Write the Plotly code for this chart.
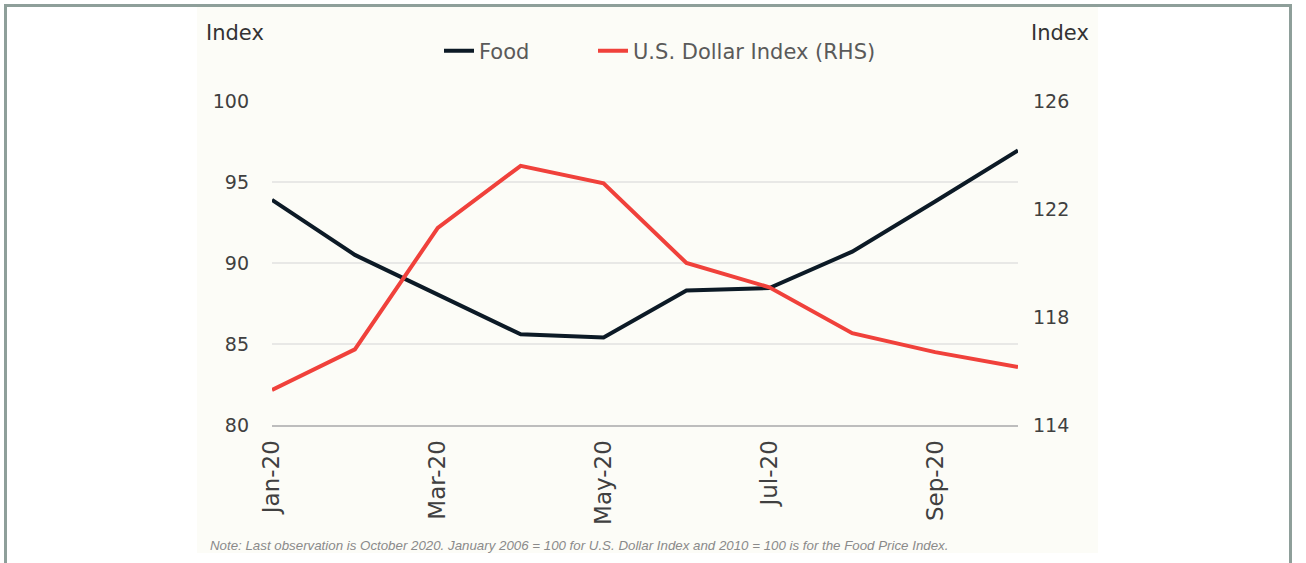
import plotly.graph_objects as go

months = ["Jan-20", "Feb-20", "Mar-20", "Apr-20", "May-20", "Jun-20",
          "Jul-20", "Aug-20", "Sep-20", "Oct-20"]
food = [93.9, 90.5, 88.05, 85.6, 85.4, 88.3, 88.45, 90.7, 93.8, 96.95]
dollar = [115.3, 116.8, 121.3, 123.6, 122.95, 120.0, 119.1, 117.4, 116.7, 116.15]
x_ticks = ["Jan-20", "Mar-20", "May-20", "Jul-20", "Sep-20"]
left_ticks = [80, 85, 90, 95, 100]
right_ticks = [114, 118, 122, 126]

W, H = 1306, 563
L, R, T, B = 272, 1018, 101, 425  # plot area in pixels


def px(x):
    return (x - L) / (R - L)


def py(y):
    return (B - y) / (B - T)


FONT = "DejaVu Sans"
fig = go.Figure()
fig.add_trace(go.Scatter(x=months, y=food, name="Food", mode="lines",
                         line=dict(color="#0c1a26", width=4), legend="legend"))
fig.add_trace(go.Scatter(x=months, y=dollar, name="U.S. Dollar Index (RHS)",
                         mode="lines", yaxis="y2", legend="legend2",
                         line=dict(color="#f0413b", width=4)))

shapes = [
    # light panel
    dict(type="rect", xref="paper", yref="paper", x0=px(197), x1=px(1098),
         y0=py(553), y1=py(7), fillcolor="#fcfcf7", line=dict(width=0),
         layer="below"),
    # outer frame
    dict(type="rect", xref="paper", yref="paper", x0=px(5.5), x1=px(1290.5),
         y0=py(575), y1=py(5.5), fillcolor="rgba(0,0,0,0)",
         line=dict(color="#8e9f9a", width=3), layer="above"),
]

annotations = [
    dict(text="Index", xref="paper", yref="paper", x=px(204), y=py(33),
         xanchor="left", yanchor="middle", showarrow=False,
         font=dict(family=FONT, size=21, color="#333333")),
    dict(text="Index", xref="paper", yref="paper", x=px(1029), y=py(33),
         xanchor="left", yanchor="middle", showarrow=False,
         font=dict(family=FONT, size=21, color="#333333")),
    dict(text="Note: Last observation is October 2020. January 2006 = 100 for U.S. Dollar Index and 2010 = 100 is for the Food Price Index.",
         xref="paper", yref="paper", x=px(208), y=py(545), xanchor="left",
         yanchor="middle", showarrow=False,
         font=dict(family="Liberation Sans", size=13.3, color="#8a8a8a",
                   style="italic")),
]

legend_common = dict(orientation="h", yanchor="middle", xanchor="left",
                     y=py(51), font=dict(family=FONT, size=21, color="#5a5a5a"),
                     bgcolor="rgba(0,0,0,0)", itemwidth=30)

fig.update_layout(
    width=W, height=H,
    margin=dict(l=L, r=W - R, t=T, b=H - B, pad=0),
    paper_bgcolor="white", plot_bgcolor="rgba(0,0,0,0)",
    font=dict(family=FONT, size=19, color="#404040"),
    showlegend=True,
    legend=dict(x=px(439), **legend_common),
    legend2=dict(x=px(593), **legend_common),
    xaxis=dict(type="category", range=[0, len(months) - 1],
               tickmode="array", tickvals=x_ticks, ticktext=x_ticks,
               tickangle=-90, showgrid=False, zeroline=False,
               showline=True, linecolor="#bdbdbd", linewidth=2,
               tickfont=dict(family=FONT, size=23, color="#404040"),
               ticks="", ticklabelstandoff=4),
    yaxis=dict(range=[80, 100], tickvals=left_ticks, showgrid=True,
               gridcolor="#e8e8e6", gridwidth=2, zeroline=False,
               showline=False, ticks="", ticklabelstandoff=22,
               tickfont=dict(family=FONT, size=19, color="#404040")),
    yaxis2=dict(range=[114, 126], tickvals=right_ticks, overlaying="y",
                side="right", showgrid=False, zeroline=False,
                showline=False, ticks="", ticklabelstandoff=14,
                tickfont=dict(family=FONT, size=19, color="#404040")),
    shapes=shapes,
    annotations=annotations,
)

fig.write_html("out.html", config={"displayModeBar": False},
               post_script="document.body.style.margin='0';")
